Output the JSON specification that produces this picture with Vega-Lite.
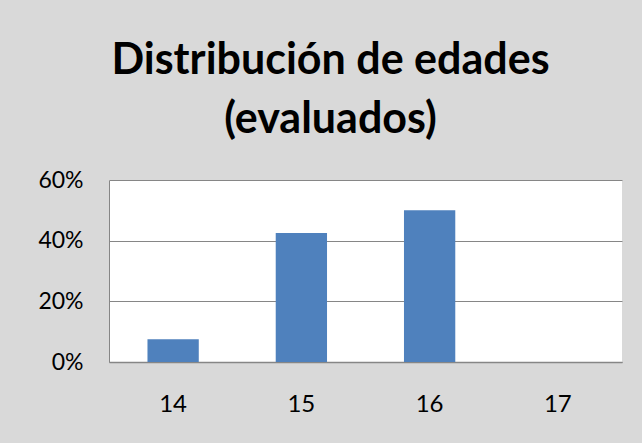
{
  "$schema": "https://vega.github.io/schema/vega-lite/v6.json",
  "width": 513,
  "height": 182,
  "autosize": {"type": "none"},
  "padding": {"left": 109, "top": 180, "right": 20, "bottom": 81},
  "background": "#d9d9d9",
  "title": {
    "text": ["Distribución de edades", "(evaluados)"],
    "font": "Lato",
    "fontSize": 43,
    "fontWeight": "bold",
    "color": "#000000",
    "anchor": "middle",
    "frame": "group",
    "dx": -35,
    "lineHeight": 59,
    "offset": 27
  },
  "data": {
    "values": [
      {"edad": "14", "pct": 0.075},
      {"edad": "15", "pct": 0.425},
      {"edad": "16", "pct": 0.5},
      {"edad": "17", "pct": 0.0}
    ]
  },
  "mark": {"type": "bar", "color": "#4f81bd"},
  "encoding": {
    "x": {
      "field": "edad",
      "type": "ordinal",
      "scale": {"paddingInner": 0.6, "paddingOuter": 0.3},
      "axis": {
        "title": null,
        "labelAngle": 0,
        "ticks": false,
        "tickSize": 0,
        "labelPadding": 30,
        "labelFont": "Lato",
        "labelFontSize": 24,
        "labelColor": "#000000",
        "domainColor": "#868686",
        "domainWidth": 1.5,
        "grid": false
      }
    },
    "y": {
      "field": "pct",
      "type": "quantitative",
      "scale": {"domain": [0, 0.6], "nice": false},
      "axis": {
        "title": null,
        "values": [0, 0.2, 0.4, 0.6],
        "format": ".0%",
        "ticks": false,
        "tickSize": 0,
        "labelPadding": 26,
        "labelFont": "Lato",
        "labelFontSize": 23,
        "labelColor": "#000000",
        "domainColor": "#868686",
        "gridColor": "#868686",
        "gridWidth": 1,
        "gridOpacity": 1
      }
    }
  },
  "config": {
    "view": {"fill": "#ffffff", "stroke": null}
  }
}
